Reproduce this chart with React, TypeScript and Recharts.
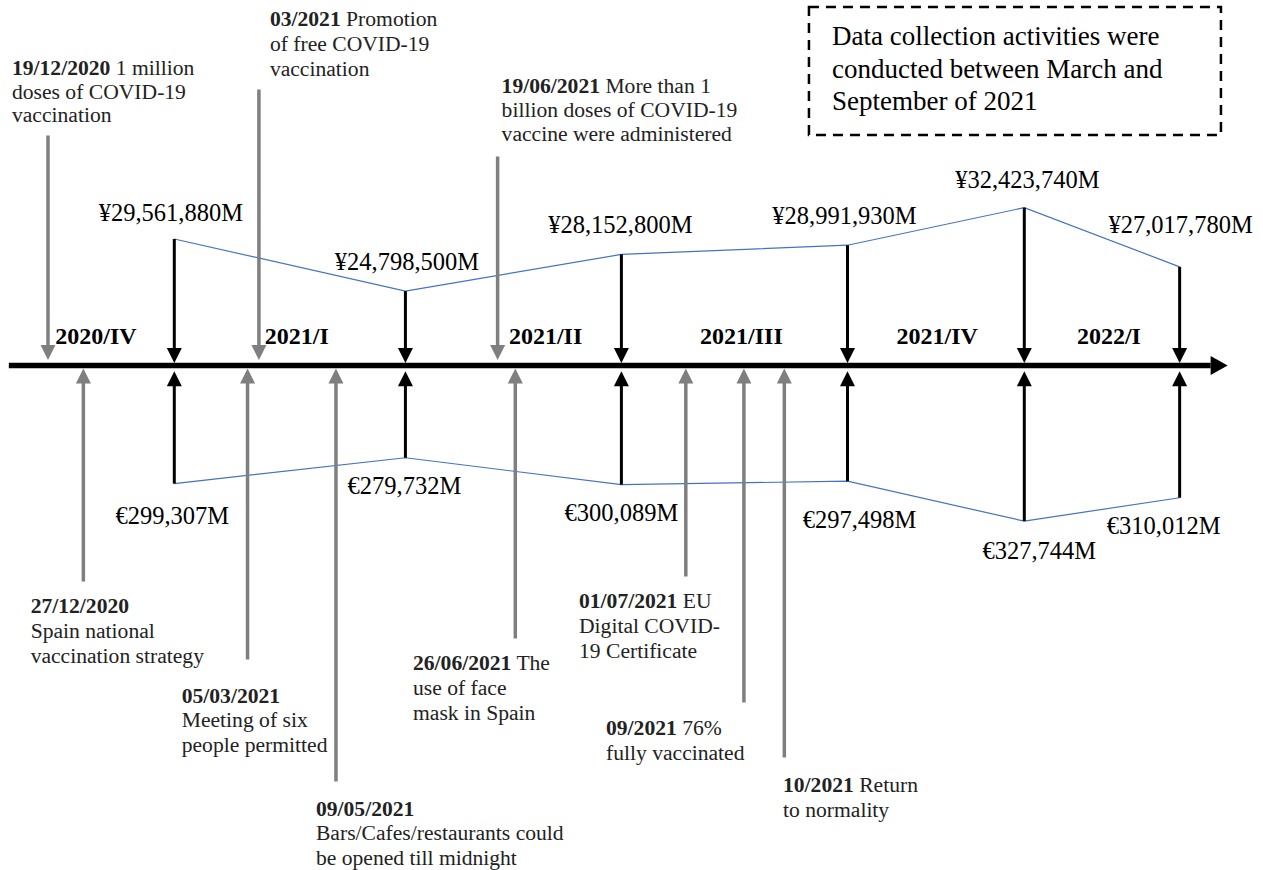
import React from 'react';
import { ComposedChart, Line, XAxis, YAxis, ReferenceLine, ReferenceDot, ReferenceArea } from 'recharts';

// ---------- data ----------
const QUARTERS = ['2020/IV', '2021/I', '2021/II', '2021/III', '2021/IV', '2022/I'];
// schematic timeline positions (0-100 units along the timeline)
const QUARTER_POS = [13.8, 32.1, 49.2, 67.1, 81.1, 93.4];
const QUARTER_LABEL_POS = [7.6, 23.5, 43.2, 58.7, 74.2, 87.8];
const YEN_VALUES = [29561880, 24798500, 28152800, 28991930, 32423740, 27017780]; // million yen
const EURO_VALUES = [299307, 279732, 300089, 297498, 327744, 310012]; // million euro

const EVENT_DATES = ['19/12/2020', '27/12/2020', '05/03/2021', '03/2021', '09/05/2021', '19/06/2021', '26/06/2021', '01/07/2021', '09/2021', '10/2021'];
const EVENT_TEXT = [
  ['1 million', 'doses of COVID-19', 'vaccination'],
  ['', 'Spain national', 'vaccination strategy'],
  ['', 'Meeting of six', 'people permitted'],
  ['Promotion', 'of free COVID-19', 'vaccination'],
  ['', 'Bars/Cafes/restaurants could', 'be opened till midnight'],
  ['More than 1', 'billion doses of COVID-19', 'vaccine were administered'],
  ['The', 'use of face', 'mask in Spain'],
  ['EU', 'Digital COVID-', '19 Certificate'],
  ['76%', 'fully vaccinated'],
  ['Return', 'to normality'],
];
const EVENT_SIDE = ['top', 'bottom', 'bottom', 'top', 'bottom', 'top', 'bottom', 'bottom', 'bottom', 'bottom'];
const EVENT_POS = [3.8, 6.6, 19.6, 20.5, 26.6, 39.4, 40.8, 54.3, 58.9, 62.1];

const NOTE_LINES = ['Data collection activities were', 'conducted between March and', 'September of 2021'];

// ---------- axes / layout ----------
const X_DOMAIN = [0, 100];
const YEN_DOMAIN = [-28100000, 51400000];
const EURO_DOMAIN = [-67000, 592000];
const YEN_BASE = 18000000; // timeline level on the yen axis
const EURO_BASE = 210000; // timeline level on the euro axis
const TIMELINE_START = 0.7;
const TIMELINE_END = 97.2;
const NOTE_BOX = { x1: 64.05, x2: 96.67, y1: 39.06e6, y2: 50.76e6 };

const YEN_LABEL_DX = [-3.5, 1.5, -1, -3, 3, 1];
const YEN_LABEL_DY = [-18, -21, -21, -21, -20, -34];
const EURO_LABEL_DX = [-2, -1, 0, 12, 15, -16];
const EURO_LABEL_DY = [40, 36, 36, 47, 38, 36];

const EVENT_LAYOUT = [
  { len: 230, dx: -36, dy: -60.5, lh: 23.5 },
  { len: 216, dx: -52.7, dy: 31, lh: 25 },
  { len: 294, dx: -65.8, dy: 43, lh: 24.5 },
  { len: 276, dx: 11, dy: -64, lh: 25 },
  { len: 416, dx: -20, dy: 34, lh: 24.5 },
  { len: 209, dx: 4, dy: -64, lh: 24 },
  { len: 273, dx: -102.3, dy: 31, lh: 25 },
  { len: 211, dx: -106.8, dy: 31, lh: 25 },
  { len: 337, dx: -137.9, dy: 32, lh: 25 },
  { len: 392, dx: -1.3, dy: 34, lh: 25 },
];

const FONT = '"Liberation Serif", "Times New Roman", serif';
const GRAY = '#7f7f7f';
const BLUE = '#4472C4';
const TEXT = '#222222';
const EVENT_FONT = 21.6;

const fmt = (n: number) => n.toLocaleString('en-US');

const rows = QUARTERS.map((q, i) => ({ quarter: q, pos: QUARTER_POS[i], yen: YEN_VALUES[i], euro: EURO_VALUES[i] }));

const timelineShape = (p: any) => {
  const { x1, y1, x2 } = p;
  const head = 17;
  return (
    <g>
      <line x1={x1} y1={y1} x2={x2 - head} y2={y1} stroke="#000" strokeWidth={5.5} />
      <polygon points={`${x2 - head},${y1 - 9.5} ${x2 - head},${y1 + 9.5} ${x2},${y1}`} fill="#000" />
    </g>
  );
};

const yenArrow = (i: number) => (p: any) => {
  const { x1, y1, y2 } = p;
  const tip = y2 - 2.5;
  return (
    <g>
      <line x1={x1} y1={y1} x2={x1} y2={tip - 14} stroke="#000" strokeWidth={3} />
      <polygon points={`${x1 - 7.5},${tip - 15} ${x1 + 7.5},${tip - 15} ${x1},${tip}`} fill="#000" />
      <text x={x1 + YEN_LABEL_DX[i]} y={y1 + YEN_LABEL_DY[i]} textAnchor="middle" fontSize={24.5} fontFamily={FONT} fill="#000">
        {`¥${fmt(YEN_VALUES[i])}M`}
      </text>
    </g>
  );
};

const euroArrow = (i: number) => (p: any) => {
  const { x1, y1, y2 } = p;
  const tip = y2 + 5.5;
  return (
    <g>
      <line x1={x1} y1={y1} x2={x1} y2={tip + 14} stroke="#000" strokeWidth={3} />
      <polygon points={`${x1 - 7.5},${tip + 15} ${x1 + 7.5},${tip + 15} ${x1},${tip}`} fill="#000" />
      <text x={x1 + EURO_LABEL_DX[i]} y={y1 + EURO_LABEL_DY[i]} textAnchor="middle" fontSize={24.5} fontFamily={FONT} fill="#000">
        {`€${fmt(EURO_VALUES[i])}M`}
      </text>
    </g>
  );
};

const quarterLabel = (i: number) => (p: any) => (
  <text x={p.cx} y={p.cy - 21.5} textAnchor="middle" fontSize={24} fontWeight="bold" fontFamily={FONT} fill="#000">
    {QUARTERS[i]}
  </text>
);

const eventShape = (i: number) => (p: any) => {
  const { cx, cy } = p;
  const L = EVENT_LAYOUT[i];
  const top = EVENT_SIDE[i] === 'top';
  const tip = top ? cy - 5.5 : cy + 3;
  const tail = top ? cy - L.len : cy + L.len;
  const head = top ? tip - 15 : tip + 15;
  const lineEnd = top ? tip - 14 : tip + 14;
  const tx = cx + L.dx;
  const ty = tail + L.dy;
  const lines = EVENT_TEXT[i];
  return (
    <g>
      <line x1={cx} y1={tail} x2={cx} y2={lineEnd} stroke={GRAY} strokeWidth={3.5} />
      <polygon points={`${cx - 7.5},${head} ${cx + 7.5},${head} ${cx},${tip}`} fill={GRAY} />
      <text x={tx} y={ty} fontSize={EVENT_FONT} fontFamily={FONT} fill={TEXT}>
        <tspan fontWeight="bold">{EVENT_DATES[i]}</tspan>
        {lines[0] ? ` ${lines[0]}` : ''}
      </text>
      {lines.slice(1).map((ln, k) => (
        <text key={k} x={tx} y={ty + (k + 1) * L.lh} fontSize={EVENT_FONT} fontFamily={FONT} fill={TEXT}>
          {ln}
        </text>
      ))}
    </g>
  );
};

const noteShape = (p: any) => {
  const { x, y, width, height } = p;
  return (
    <g>
      <rect x={x} y={y} width={width} height={height} fill="none" stroke="#000" strokeWidth={2.5} strokeDasharray="10 7" />
      {NOTE_LINES.map((ln, k) => (
        <text key={k} x={x + 23} y={y + 38 + k * 32.5} fontSize={27} fontFamily={FONT} fill="#000">
          {ln}
        </text>
      ))}
    </g>
  );
};

export default function App() {
  return (
    <div style={{ position: 'absolute', left: 0, top: 0, width: 1263, height: 870, background: '#fff' }}>
      <ComposedChart width={1263} height={870} data={rows} margin={{ top: 0, right: 0, bottom: 0, left: 0 }}>
        <XAxis dataKey="pos" type="number" domain={X_DOMAIN} hide />
        <YAxis yAxisId="yen" type="number" domain={YEN_DOMAIN} hide />
        <YAxis yAxisId="euro" type="number" domain={EURO_DOMAIN} reversed hide />

        <ReferenceArea yAxisId="yen" x1={NOTE_BOX.x1} x2={NOTE_BOX.x2} y1={NOTE_BOX.y1} y2={NOTE_BOX.y2} shape={noteShape} />

        {EVENT_POS.map((pos, i) => (
          <ReferenceDot key={`ev${i}`} yAxisId="yen" x={pos} y={YEN_BASE} shape={eventShape(i)} />
        ))}

        <ReferenceLine
          yAxisId="yen"
          segment={[{ x: TIMELINE_START, y: YEN_BASE }, { x: TIMELINE_END, y: YEN_BASE }]}
          shape={timelineShape}
        />

        {QUARTER_LABEL_POS.map((pos, i) => (
          <ReferenceDot key={`ql${i}`} yAxisId="yen" x={pos} y={YEN_BASE} shape={quarterLabel(i)} />
        ))}

        <Line yAxisId="yen" dataKey="yen" stroke={BLUE} strokeWidth={1.2} strokeLinecap="butt" dot={false} activeDot={false} isAnimationActive={false} />
        <Line yAxisId="euro" dataKey="euro" stroke={BLUE} strokeWidth={1.2} strokeLinecap="butt" dot={false} activeDot={false} isAnimationActive={false} />

        {QUARTER_POS.map((pos, i) => (
          <ReferenceLine
            key={`ya${i}`}
            yAxisId="yen"
            segment={[{ x: pos, y: YEN_VALUES[i] }, { x: pos, y: YEN_BASE }]}
            shape={yenArrow(i)}
          />
        ))}
        {QUARTER_POS.map((pos, i) => (
          <ReferenceLine
            key={`ea${i}`}
            yAxisId="euro"
            segment={[{ x: pos, y: EURO_VALUES[i] }, { x: pos, y: EURO_BASE }]}
            shape={euroArrow(i)}
          />
        ))}
      </ComposedChart>
    </div>
  );
}
